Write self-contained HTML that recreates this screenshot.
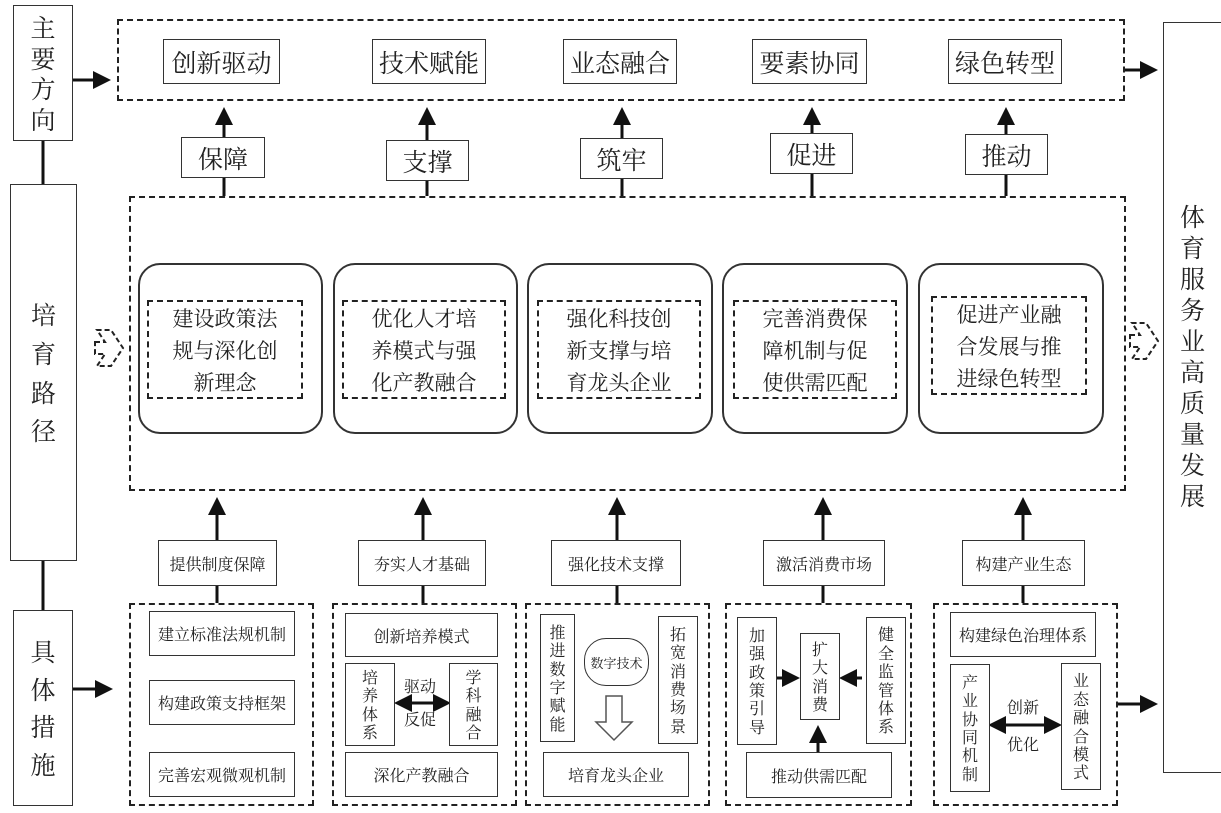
<!DOCTYPE html>
<html><head><meta charset="utf-8"><style>
body{margin:0;background:#fff;width:1221px;height:813px;position:relative;overflow:hidden;font-family:"Noto Serif CJK SC","Liberation Serif",serif;color:#222}
.b{position:absolute;border:1.5px solid #333;box-sizing:border-box;display:flex;align-items:center;justify-content:center;text-align:center;background:#fff}
.d{position:absolute;border:2.5px dashed #222;box-sizing:border-box}
.r{position:absolute;border:2px solid #333;border-radius:22px;box-sizing:border-box}
.v{line-height:1.15}
.t26{font-size:25px}.t22{font-size:21px;line-height:32px}.t16{font-size:16px}
svg{position:absolute;left:0;top:0}
</style></head><body>
<div class="d" style="left:117px;top:19px;width:1008px;height:82px"></div>
<div class="d" style="left:129px;top:196px;width:997px;height:295px"></div>
<div class="d" style="left:129px;top:603px;width:185px;height:203px"></div>
<div class="d" style="left:332px;top:603px;width:185px;height:203px"></div>
<div class="d" style="left:525px;top:603px;width:185px;height:203px"></div>
<div class="d" style="left:725px;top:603px;width:187px;height:203px"></div>
<div class="d" style="left:933px;top:603px;width:185px;height:203px"></div>

<svg width="1221" height="813">
<defs><marker id="a" markerWidth="6" markerHeight="6" refX="5" refY="3" orient="auto-start-reverse" markerUnits="strokeWidth"><path d="M0,0 L6,3 L0,6z" fill="#111"/></marker></defs>
<g stroke="#111" stroke-width="3" fill="none">
<line x1="43" y1="140" x2="43" y2="184"/><line x1="43" y1="560" x2="43" y2="610"/>
<line x1="72" y1="80" x2="108" y2="80" marker-end="url(#a)"/>
<line x1="72" y1="689" x2="110" y2="689" marker-end="url(#a)"/>
<line x1="1125" y1="70" x2="1155" y2="70" marker-end="url(#a)"/>
<line x1="1118" y1="704" x2="1155" y2="704" marker-end="url(#a)"/>
<line x1="224" y1="196" x2="224" y2="110" marker-end="url(#a)"/>
<line x1="427" y1="196" x2="427" y2="110" marker-end="url(#a)"/>
<line x1="622" y1="196" x2="622" y2="110" marker-end="url(#a)"/>
<line x1="812" y1="196" x2="812" y2="110" marker-end="url(#a)"/>
<line x1="1006" y1="196" x2="1006" y2="110" marker-end="url(#a)"/>
<line x1="217" y1="603" x2="217" y2="500" marker-end="url(#a)"/>
<line x1="423" y1="603" x2="423" y2="500" marker-end="url(#a)"/>
<line x1="617" y1="603" x2="617" y2="500" marker-end="url(#a)"/>
<line x1="823" y1="603" x2="823" y2="500" marker-end="url(#a)"/>
<line x1="1023" y1="603" x2="1023" y2="500" marker-end="url(#a)"/>
<line x1="397" y1="703" x2="448" y2="703" marker-start="url(#a)" marker-end="url(#a)" stroke-width="3"/>
<line x1="991" y1="725" x2="1059" y2="725" marker-start="url(#a)" marker-end="url(#a)" stroke-width="3"/>
<line x1="775" y1="678" x2="797" y2="678" marker-end="url(#a)"/>
<line x1="862" y1="678" x2="842" y2="678" marker-end="url(#a)"/>
<line x1="818" y1="752" x2="818" y2="728" marker-end="url(#a)"/>
</g>
<path d="M606,696 h16 v26 h10 l-18,18 l-18,-18 h10z" fill="#fff" stroke="#555" stroke-width="1.5"/>
<g fill="none" stroke="#222" stroke-width="2" stroke-dasharray="5 3">
<path d="M95,342 h10 l-8,-12 h14 l12,18 l-12,18 h-14 l8,-12 h-10z"/>
<path d="M1130,335 h10 l-8,-12 h14 l12,18 l-12,18 h-14 l8,-12 h-10z"/>
</g>
</svg>

<div class="b v t26" style="left:13px;top:5px;width:60px;height:136px;line-height:1.22">主<br>要<br>方<br>向</div>
<div class="b v t26" style="left:10px;top:184px;width:67px;height:377px;line-height:1.55">培<br>育<br>路<br>径</div>
<div class="b v t26" style="left:13px;top:610px;width:60px;height:196px;line-height:1.5">具<br>体<br>措<br>施</div>
<div class="b v t26" style="left:1163px;top:22px;width:70px;height:751px;justify-content:flex-start;padding-left:16px;padding-bottom:84px;line-height:1.24">体<br>育<br>服<br>务<br>业<br>高<br>质<br>量<br>发<br>展</div>

<div class="b t26" style="left:163px;top:39px;width:117px;height:45px">创新驱动</div>
<div class="b t26" style="left:372px;top:39px;width:114px;height:45px">技术赋能</div>
<div class="b t26" style="left:563px;top:39px;width:114px;height:45px">业态融合</div>
<div class="b t26" style="left:752px;top:39px;width:115px;height:45px">要素协同</div>
<div class="b t26" style="left:948px;top:39px;width:114px;height:45px">绿色转型</div>

<div class="b t26" style="left:181px;top:137px;width:84px;height:41px">保障</div>
<div class="b t26" style="left:386px;top:140px;width:83px;height:41px">支撑</div>
<div class="b t26" style="left:580px;top:138px;width:83px;height:41px">筑牢</div>
<div class="b t26" style="left:770px;top:133px;width:83px;height:41px">促进</div>
<div class="b t26" style="left:965px;top:134px;width:83px;height:41px">推动</div>

<div class="r" style="left:138px;top:263px;width:185px;height:171px"></div>
<div class="r" style="left:333px;top:263px;width:185px;height:171px"></div>
<div class="r" style="left:527px;top:263px;width:186px;height:171px"></div>
<div class="r" style="left:722px;top:263px;width:186px;height:171px"></div>
<div class="r" style="left:918px;top:263px;width:186px;height:171px"></div>
<div class="d t22" style="left:147px;top:300px;width:156px;height:99px;display:flex;align-items:center;justify-content:center;text-align:center">建设政策法<br>规与深化创<br>新理念</div>
<div class="d t22" style="left:342px;top:300px;width:164px;height:99px;display:flex;align-items:center;justify-content:center;text-align:center">优化人才培<br>养模式与强<br>化产教融合</div>
<div class="d t22" style="left:537px;top:300px;width:164px;height:99px;display:flex;align-items:center;justify-content:center;text-align:center">强化科技创<br>新支撑与培<br>育龙头企业</div>
<div class="d t22" style="left:733px;top:300px;width:164px;height:99px;display:flex;align-items:center;justify-content:center;text-align:center">完善消费保<br>障机制与促<br>使供需匹配</div>
<div class="d t22" style="left:931px;top:296px;width:156px;height:99px;display:flex;align-items:center;justify-content:center;text-align:center">促进产业融<br>合发展与推<br>进绿色转型</div>

<div class="b t16" style="left:158px;top:540px;width:119px;height:46px">提供制度保障</div>
<div class="b t16" style="left:358px;top:540px;width:128px;height:46px">夯实人才基础</div>
<div class="b t16" style="left:551px;top:540px;width:130px;height:46px">强化技术支撑</div>
<div class="b t16" style="left:763px;top:540px;width:122px;height:46px">激活消费市场</div>
<div class="b t16" style="left:962px;top:540px;width:123px;height:46px">构建产业生态</div>

<div class="b t16" style="left:149px;top:611px;width:146px;height:45px">建立标准法规机制</div>
<div class="b t16" style="left:149px;top:680px;width:146px;height:45px">构建政策支持框架</div>
<div class="b t16" style="left:149px;top:752px;width:146px;height:45px">完善宏观微观机制</div>

<div class="b t16" style="left:345px;top:613px;width:153px;height:44px">创新培养模式</div>
<div class="b t16 v" style="left:345px;top:663px;width:50px;height:83px">培<br>养<br>体<br>系</div>
<div class="b t16 v" style="left:449px;top:663px;width:49px;height:83px">学<br>科<br>融<br>合</div>
<div style="position:absolute;left:404px;top:676px;font-size:16px;line-height:20px">驱动</div>
<div style="position:absolute;left:404px;top:709px;font-size:16px;line-height:20px">反促</div>
<div class="b t16" style="left:345px;top:752px;width:153px;height:45px">深化产教融合</div>

<div class="b t16 v" style="left:540px;top:614px;width:35px;height:128px">推<br>进<br>数<br>字<br>赋<br>能</div>
<div class="b t16 v" style="left:658px;top:616px;width:40px;height:128px">拓<br>宽<br>消<br>费<br>场<br>景</div>
<div class="b" style="left:584px;top:638px;width:65px;height:48px;border-radius:22px;font-size:13px">数字技术</div>
<div class="b t16" style="left:543px;top:752px;width:146px;height:45px">培育龙头企业</div>

<div class="b t16 v" style="left:737px;top:617px;width:40px;height:128px">加<br>强<br>政<br>策<br>引<br>导</div>
<div class="b t16 v" style="left:800px;top:633px;width:40px;height:87px">扩<br>大<br>消<br>费</div>
<div class="b t16 v" style="left:866px;top:617px;width:40px;height:127px">健<br>全<br>监<br>管<br>体<br>系</div>
<div class="b t16" style="left:746px;top:752px;width:146px;height:46px">推动供需匹配</div>

<div class="b t16" style="left:950px;top:612px;width:146px;height:45px">构建绿色治理体系</div>
<div class="b t16 v" style="left:950px;top:664px;width:40px;height:128px">产<br>业<br>协<br>同<br>机<br>制</div>
<div class="b t16 v" style="left:1061px;top:663px;width:40px;height:127px">业<br>态<br>融<br>合<br>模<br>式</div>
<div style="position:absolute;left:1007px;top:697px;font-size:16px;line-height:20px">创新</div>
<div style="position:absolute;left:1007px;top:734px;font-size:16px;line-height:20px">优化</div>
</body></html>
